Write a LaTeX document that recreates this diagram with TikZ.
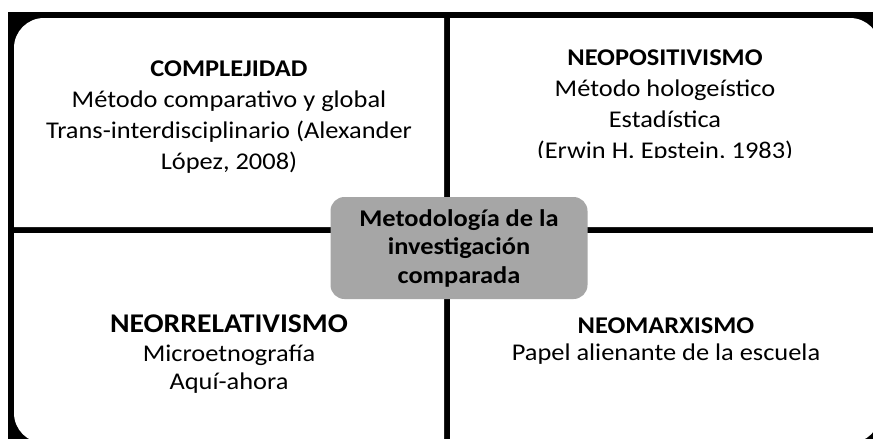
\documentclass[tikz,border=0pt]{standalone}
\usepackage{fontspec}
\setmainfont{Carlito}[FakeStretch=1.1]
\begin{document}
\begin{tikzpicture}[x=1pt,y=-1pt,
  quadtext/.style={anchor=north,align=center,inner sep=0pt,font=\fontsize{24}{31}\selectfont},
  centerbox/.style={fill=black!35,rounded corners=14pt,minimum width=257pt,minimum height=102pt,
    align=center,inner sep=0pt,font=\bfseries\fontsize{24}{28.5}\selectfont}]
\useasboundingbox (0,0) rectangle (873,439);
% black frame and dividers
\fill[black] (8,12) rectangle (892,452);
% quadrants, each with its outer corner rounded
\fill[white] [rounded corners=30pt] (14,18) rectangle (444,227)
  [sharp corners] (60,18) rectangle (444,227) (14,60) rectangle (444,227);
\fill[white] [rounded corners=30pt] (450,18) rectangle (880,227)
  [sharp corners] (450,18) rectangle (830,227) (450,60) rectangle (880,227);
\fill[white] [rounded corners=30pt] (14,233) rectangle (444,443)
  [sharp corners] (60,233) rectangle (444,443) (14,233) rectangle (444,400);
\fill[white] [rounded corners=30pt] (450,233) rectangle (880,443)
  [sharp corners] (450,233) rectangle (830,443) (450,233) rectangle (880,400);
% texts
\node[quadtext] (compl) at (229,61) {\textbf{COMPLEJIDAD}\\Método comparativo y global\\Trans-interdisciplinario (Alexander\\López, 2008)};
\begin{scope}
  \clip (450,18) rectangle (880,157);
  \node[quadtext] (neopos) at (665,50) {\textbf{NEOPOSITIVISMO}\\Método hologeístico\\Estadística\\(Erwin H. Epstein, 1983)};
\end{scope}
\node[quadtext,font=\fontsize{24}{28.5}\selectfont] (neorrel) at (229,315) {{\fontsize{27}{28.5}\selectfont\bfseries NEORRELATIVISMO}\\Microetnografía\\Aquí-ahora};
\node[quadtext,font=\fontsize{24}{27}\selectfont] (neomarx) at (666,318) {\textbf{NEOMARXISMO}\\Papel alienante de la escuela};
\node[centerbox] (metod) at (459,248) {Metodología de la\\investigación\\comparada};
\end{tikzpicture}
\end{document}
